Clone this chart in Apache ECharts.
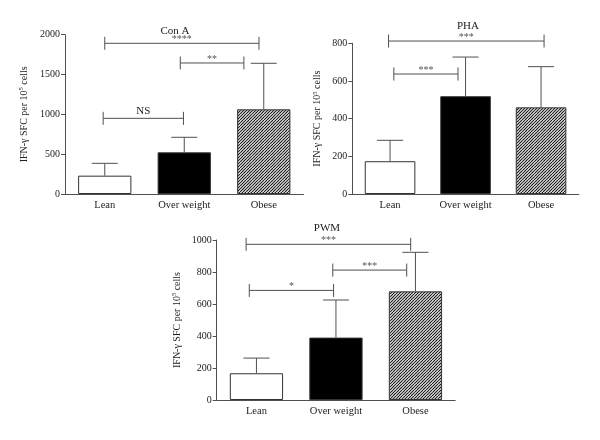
<!DOCTYPE html>
<html>
<head>
<meta charset="utf-8">
<script src="https://cdn.jsdelivr.net/npm/echarts@6/dist/echarts.min.js"></script>
<style>html,body{margin:0;padding:0;background:#fff}#c{width:600px;height:440px}</style>
</head>
<body>
<div id="c"></div>
<script>
const categories = ['Lean', 'Over weight', 'Obese'];
const panelTitles = ['Con A', 'PHA', 'PWM'];
const conA_mean = [230, 523, 1063];
const conA_upper = [385, 712, 1641];
const pha_mean = [174, 519, 460];
const pha_upper = [285, 727, 676];
const pwm_mean = [167, 390, 679];
const pwm_upper = [262, 625, 923];
const conA_ticks = [0, 2000, 500];
const pha_ticks = [0, 800, 200];
const pwm_ticks = [0, 1000, 200];
// brackets: [from (category position), to, y value, label]
const conA_brackets = [[0, 1.94, 1892, '****'], [0.95, 1.75, 1645, '**'], [-0.02, 0.99, 950, 'NS']];
const pha_brackets = [[-0.02, 2.04, 812, '***'], [0.05, 0.9, 637, '***']];
const pwm_brackets = [[-0.13, 1.94, 973, '***'], [-0.09, 0.97, 685, '*'], [0.96, 1.89, 812, '***']];

const SERIF = '"Liberation Serif", "DejaVu Serif", serif';
const LINE = '#505050';

// hatch pattern
const pc = document.createElement('canvas');
pc.width = 6; pc.height = 6;
const ctx = pc.getContext('2d');
ctx.fillStyle = '#fff'; ctx.fillRect(0, 0, 6, 6);
ctx.strokeStyle = '#1a1a1a'; ctx.lineWidth = 1.2;
for (let i = -6; i <= 12; i += 3) {
  ctx.beginPath(); ctx.moveTo(i, 6); ctx.lineTo(i + 6, 0); ctx.stroke();
}
const hatch = { image: pc, repeat: 'repeat' };
const fills = ['#ffffff', '#000000', hatch];

const panels = [
  { mean: conA_mean, upper: conA_upper, ticks: conA_ticks, brackets: conA_brackets, grid: { left: 65, top: 34.7, width: 238.5, height: 159.3 }, nameGap: 34, title: [175, 31] },
  { mean: pha_mean, upper: pha_upper, ticks: pha_ticks, brackets: pha_brackets, grid: { left: 352.3, top: 43.3, width: 226.5, height: 150.7 }, nameGap: 28, title: [468, 26] },
  { mean: pwm_mean, upper: pwm_upper, ticks: pwm_ticks, brackets: pwm_brackets, grid: { left: 216.7, top: 240, width: 238.5, height: 160 }, nameGap: 33, title: [327, 228.5] }
];

const grids = [], xAxes = [], yAxes = [], series = [];
panels.forEach((p, k) => {
  grids.push(p.grid);
  xAxes.push({
    type: 'category', gridIndex: k, data: categories,
    axisLine: { lineStyle: { color: LINE, width: 1 } },
    axisTick: { alignWithLabel: true, length: 3, lineStyle: { color: LINE } },
    axisLabel: { fontFamily: SERIF, fontSize: 10.5, color: '#222', margin: 6 }
  });
  yAxes.push({
    type: 'value', gridIndex: k, min: p.ticks[0], max: p.ticks[1], interval: p.ticks[2],
    splitLine: { show: false },
    axisLine: { show: true, lineStyle: { color: LINE, width: 1 } },
    axisTick: { show: true, length: 4, lineStyle: { color: LINE } },
    axisLabel: { fontFamily: SERIF, fontSize: 10, color: '#222', margin: 5, formatter: v => String(v) },
    name: 'IFN-γ SFC per 10{sup|5} cells', nameLocation: 'middle', nameGap: p.nameGap,
    nameTextStyle: { fontFamily: SERIF, fontSize: 10, color: '#222', rich: { sup: { fontFamily: SERIF, fontSize: 6.5, verticalAlign: 'top', padding: [0, 0, 6, 0], color: '#222' } } }
  });
  series.push({
    type: 'bar', xAxisIndex: k, yAxisIndex: k, barWidth: '67%',
    data: p.mean.map((v, i) => ({ value: v, itemStyle: { color: fills[i], borderColor: '#333', borderWidth: 1 } })),
    silent: true, animation: false
  });
  series.push({
    type: 'custom', xAxisIndex: k, yAxisIndex: k, silent: true, animation: false, z: 5,
    data: p.mean.map((v, i) => [i, v, p.upper[i]]),
    renderItem: (params, api) => {
      const a = api.coord([api.value(0), api.value(1)]);
      const b = api.coord([api.value(0), api.value(2)]);
      const st = { stroke: LINE, lineWidth: 1 };
      return { type: 'group', children: [
        { type: 'line', shape: { x1: a[0], y1: a[1], x2: b[0], y2: b[1] }, style: st },
        { type: 'line', shape: { x1: b[0] - 13, y1: b[1], x2: b[0] + 13, y2: b[1] }, style: st }
      ] };
    }
  });
  series.push({
    type: 'custom', xAxisIndex: k, yAxisIndex: k, silent: true, animation: false, z: 5,
    data: p.brackets.map(b => [b[0], b[1], b[2]]),
    renderItem: (params, api) => {
      const br = p.brackets[params.dataIndex];
      const bw = api.size([1, 0])[0];
      const f = br[0], t = br[1], y = br[2];
      const fi = Math.max(0, Math.min(2, Math.round(f))), ti = Math.max(0, Math.min(2, Math.round(t)));
      const pf = api.coord([fi, y]), pt = api.coord([ti, y]);
      const x1 = pf[0] + (f - fi) * bw, x2 = pt[0] + (t - ti) * bw, yy = pf[1];
      const st = { stroke: LINE, lineWidth: 1 };
      const isStar = br[3].indexOf('*') >= 0;
      return { type: 'group', children: [
        { type: 'line', shape: { x1: x1, y1: yy, x2: x2, y2: yy }, style: st },
        { type: 'line', shape: { x1: x1, y1: yy - 6.5, x2: x1, y2: yy + 6.5 }, style: st },
        { type: 'line', shape: { x1: x2, y1: yy - 6.5, x2: x2, y2: yy + 6.5 }, style: st },
        { type: 'text', style: { text: br[3], x: (x1 + x2) / 2, y: isStar ? yy + 1 : yy - 2,
          textAlign: 'center', textVerticalAlign: 'bottom', fontFamily: SERIF,
          fontSize: isStar ? 10 : 11, fill: isStar ? '#555' : '#222' } }
      ] };
    }
  });
});

const chart = echarts.init(document.getElementById('c'), null, { renderer: 'canvas' });
chart.setOption({
  animation: false, backgroundColor: '#fff',
  grid: grids, xAxis: xAxes, yAxis: yAxes, series: series,
  graphic: panels.map((p, k) => ({ type: 'text', x: p.title[0], y: p.title[1], style: { text: panelTitles[k], textAlign: 'center', textVerticalAlign: 'middle', fontFamily: SERIF, fontSize: 11, fill: '#222' } }))
});
</script>
</body>
</html>
